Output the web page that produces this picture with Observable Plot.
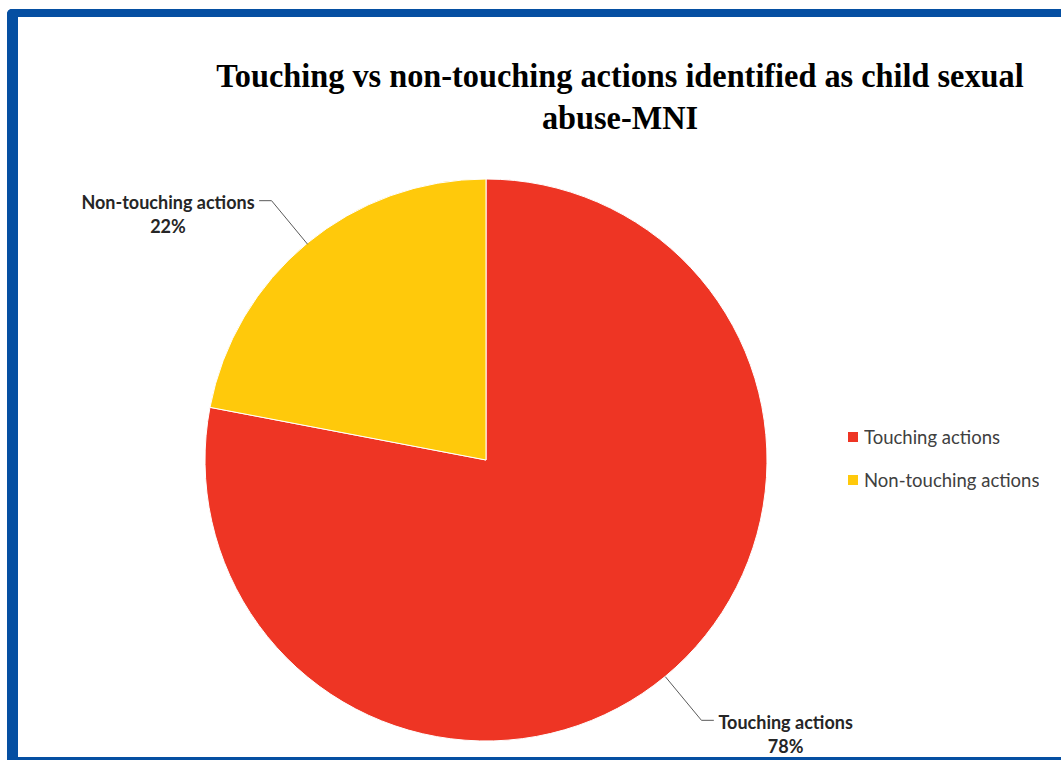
<!DOCTYPE html>
<html><head><meta charset="utf-8">
<script src="https://cdn.jsdelivr.net/npm/d3@7"></script>
<script src="https://cdn.jsdelivr.net/npm/@observablehq/plot@0.6"></script>
<style>
html,body{margin:0;padding:0;background:#fff;}
#page{position:relative;width:1061px;height:760px;overflow:hidden;background:#fff;}
#frame{position:absolute;left:7px;top:9px;width:1100px;height:740px;border-left:11px solid #054FA2;border-top:8px solid #054FA2;border-bottom:3px solid #054FA2;border-top-left-radius:5px;}
#title{position:absolute;left:120px;width:1000px;top:55px;text-align:center;font-family:"Liberation Serif","Times New Roman",serif;font-weight:bold;font-size:34px;line-height:42px;color:#000;white-space:nowrap;transform:scaleX(0.95);transform-origin:500px 0;}
#chart{position:absolute;left:0;top:150px;}
#legend{position:absolute;left:848px;top:426px;}
#legend, #legend *{font-family:Lato,sans-serif !important;font-size:18.5px !important;color:#404040 !important;}
#legend [class$="-swatch"]{margin-bottom:20px !important;align-items:center;}
#legend svg{margin-right:6px !important;}
</style></head>
<body><div id="page"><div id="frame"></div><div id="title"></div><div id="chart"></div><div id="legend"></div></div>
<script>
// ---- data ----
const categories = ["Touching actions", "Non-touching actions"];
const shares = [78, 22];
const sliceColors = ["#EE3524", "#FFC90B"];
const titleLines = ["Touching vs non-touching actions identified as child sexual", "abuse-MNI"];

// ---- derived ----
const rows = categories.map((c, i) => ({category: c, value: shares[i]}));
const arcs = d3.pie().sort(null).value(d => d.value)(rows);
const color = Plot.scale({color: {type: "ordinal", domain: categories, range: sliceColors}});

const title = document.getElementById("title");
titleLines.forEach((t, i) => { if (i) title.appendChild(document.createElement("br")); title.appendChild(document.createTextNode(t)); });

// layout
const W = 1061, H = 610;
const xRange = [205, 767], yRange = [591, 29];
const pxPerUnit = (xRange[1] - xRange[0]) / 2;
const labelFontSize = 18;
const ctx = document.createElement("canvas").getContext("2d");
ctx.font = `bold ${labelFontSize}px Lato`;

const labels = arcs.map(a => {
  const m = (a.startAngle + a.endAngle) / 2;
  const s = Math.sin(m), c = Math.cos(m);
  const side = s >= 0 ? 1 : -1;
  const ex = 1.2 * s, ey = 1.2 * c;
  const hx = ex + side * 12 / pxPerUnit;
  const w = ctx.measureText(a.data.category).width;
  return {category: a.data.category, text: a.data.category + "\n" + a.data.value + "%",
          s, c, ex, ey, hx, tx: hx + side * (5 + w / 2) / pxPerUnit, ty: ey};
});
const leaders = labels.flatMap(l => [
  {category: l.category, x: l.s, y: l.c},
  {category: l.category, x: l.ex, y: l.ey},
  {category: l.category, x: l.hx, y: l.ey}
]);

const pie = (index, scales) => {
  const cx = scales.x(0), cy = scales.y(0), r = scales.x(1) - scales.x(0);
  const g = d3.create("svg:g").attr("transform", `translate(${cx},${cy})`);
  g.selectAll("path").data(arcs).join("path")
    .attr("d", d3.arc().innerRadius(0).outerRadius(r))
    .attr("fill", d => color.apply(d.data.category))
    .attr("stroke", "#fff").attr("stroke-width", 1);
  return g.node();
};

const chart = Plot.plot({
  width: W, height: H,
  style: {background: "transparent", overflow: "visible"},
  x: {domain: [-1, 1], range: xRange, axis: null},
  y: {domain: [-1, 1], range: yRange, axis: null},
  marks: [
    pie,
    Plot.line(leaders, {x: "x", y: "y", z: "category", stroke: "#5a5a5a", strokeWidth: 1}),
    Plot.text(labels, {x: "tx", y: "ty", text: "text", textAnchor: "middle", lineAnchor: "top", dy: -9,
      lineHeight: 1.35, fontSize: labelFontSize, fontWeight: "bold", fontFamily: "Lato", fill: "#262626"})
  ]
});
document.getElementById("chart").appendChild(chart);

const legend = Plot.legend({color: {type: "ordinal", domain: categories, range: sliceColors},
  legend: "swatches", columns: 1, swatchSize: 10});
document.getElementById("legend").appendChild(legend);
</script></body></html>
